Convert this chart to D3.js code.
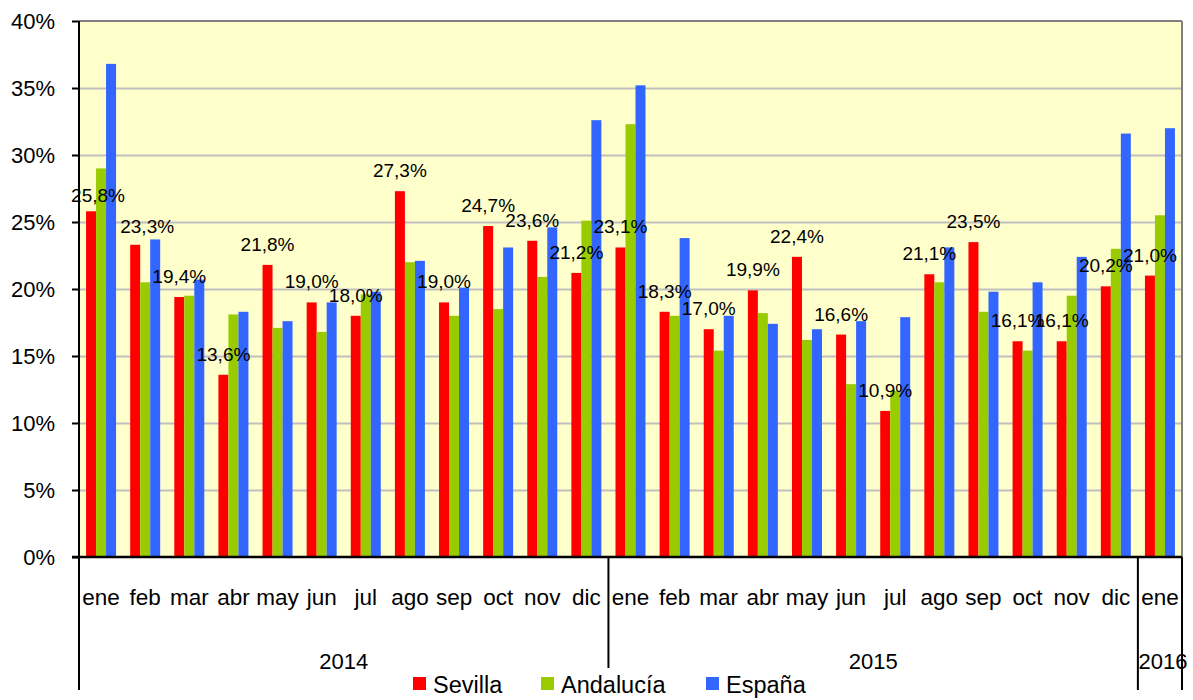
<!DOCTYPE html>
<html>
<head>
<meta charset="utf-8">
<script src="https://cdn.jsdelivr.net/npm/d3@7"></script>
<style>
  html, body { margin: 0; padding: 0; background: #fff; }
  svg { display: block; font-family: "Liberation Sans", Arial, sans-serif; }
</style>
</head>
<body>
<svg id="chart" width="1193" height="700"></svg>
<script>
// ---- Data ----
const months = ["ene","feb","mar","abr","may","jun","jul","ago","sep","oct","nov","dic",
                "ene","feb","mar","abr","may","jun","jul","ago","sep","oct","nov","dic",
                "ene"];
const years = ["2014", "2015", "2016"];
const yearCounts = [12, 12, 1];
const seriesNames = ["Sevilla", "Andalucía", "España"];
const sevilla   = [25.8,23.3,19.4,13.6,21.8,19.0,18.0,27.3,19.0,24.7,23.6,21.2,
                   23.1,18.3,17.0,19.9,22.4,16.6,10.9,21.1,23.5,16.1,16.1,20.2,
                   21.0];
const andalucia = [29.0,20.5,19.5,18.1,17.1,16.8,19.6,22.0,18.0,18.5,20.9,25.1,
                   32.3,18.0,15.4,18.2,16.2,12.9,12.4,20.5,18.3,15.4,19.5,23.0,
                   25.5];
const espana    = [36.8,23.7,20.7,18.3,17.6,19.0,19.8,22.1,20.1,23.1,24.6,32.6,
                   35.2,23.8,18.0,17.4,17.0,17.6,17.9,23.1,19.8,20.5,22.4,31.6,
                   32.0];
const yTicks = [0,5,10,15,20,25,30,35,40];

// ---- Layout / style ----
const colors = ["#FF0000", "#99CC00", "#3366FF"];
const pLeft = 79, pRight = 1182, pTop = 21, pBottom = 557;
const labelNudge = {0: [7, 5], 1: [12, 2]}; // manual label offsets of the original

const svg = d3.select("#chart");
const idx = d3.range(months.length);
const x = d3.scaleBand().domain(idx).range([pLeft, pRight]).padding(0);
const bw = x.bandwidth();
const xs = d3.scaleBand().domain(d3.range(3)).range([bw * 0.16, bw * 0.84]).padding(0);
const y = d3.scaleLinear().domain([0, 40]).range([pBottom, pTop]);

// plot background
svg.append("rect").attr("x", pLeft).attr("y", pTop)
  .attr("width", pRight - pLeft).attr("height", pBottom - pTop).attr("fill", "#FFFFCC");

// gridlines
const grid = svg.append("g").attr("transform", `translate(${pLeft},0)`)
  .call(d3.axisLeft(y).tickValues(yTicks.filter(t => t > 0 && t < 40)).tickSize(-(pRight - pLeft)).tickFormat(""));
grid.select(".domain").remove();
grid.selectAll("line").attr("stroke", "#C0C0C0").attr("stroke-width", 2);

// border top/right
svg.append("line").attr("x1", pLeft).attr("x2", pRight).attr("y1", pTop).attr("y2", pTop)
  .attr("stroke", "#808080").attr("stroke-width", 2);
svg.append("line").attr("x1", pRight).attr("x2", pRight).attr("y1", pTop).attr("y2", pBottom)
  .attr("stroke", "#808080").attr("stroke-width", 2);

// bars
const seriesData = [sevilla, andalucia, espana];
seriesData.forEach((vals, s) => {
  svg.append("g").selectAll("rect").data(vals).join("rect")
    .attr("x", (d, i) => x(i) + xs(s))
    .attr("y", d => y(d))
    .attr("width", xs.bandwidth())
    .attr("height", d => y(0) - y(d))
    .attr("fill", colors[s]);
});

// y axis
const yAxis = svg.append("g").attr("transform", `translate(${pLeft},0)`)
  .call(d3.axisLeft(y).tickValues(yTicks).tickSize(7).tickPadding(17).tickFormat(d => d + "%"));
yAxis.select(".domain").remove();
yAxis.selectAll("line").attr("stroke", "#000").attr("stroke-width", 2);
yAxis.selectAll("text").attr("font-size", 22).attr("fill", "#000")
  .attr("font-family", "'Liberation Sans', Arial, sans-serif");

svg.append("line").attr("x1", pLeft).attr("x2", pLeft).attr("y1", pTop).attr("y2", 690)
  .attr("stroke", "#000").attr("stroke-width", 2);
svg.append("line").attr("x1", pLeft - 7).attr("x2", pRight).attr("y1", pBottom).attr("y2", pBottom)
  .attr("stroke", "#000").attr("stroke-width", 2.5);

// month labels
svg.append("g").selectAll("text").data(idx).join("text")
  .attr("x", i => x(i) + bw / 2)
  .attr("y", 597)
  .attr("text-anchor", "middle")
  .attr("dominant-baseline", "central")
  .attr("font-size", 22.5)
  .text(i => months[i]);

// year groups
let start = 0;
years.forEach((yr, k) => {
  const x0 = x(start), x1 = x(start + yearCounts[k] - 1) + bw;
  svg.append("text").attr("x", (x0 + x1) / 2 + (k === 2 ? 3 : 0)).attr("y", 661)
    .attr("text-anchor", "middle").attr("dominant-baseline", "central")
    .attr("font-size", 22).text(yr);
  svg.append("line").attr("x1", x1).attr("x2", x1).attr("y1", pBottom)
    .attr("y2", k === 0 ? 668 : 690).attr("stroke", "#000").attr("stroke-width", 2);
  start += yearCounts[k];
});

// data labels (Sevilla)
const fmt = v => d3.format(".1f")(v).replace(".", ",") + "%";
svg.append("g").selectAll("text").data(sevilla).join("text")
  .attr("x", (d, i) => x(i) + xs(0) + xs.bandwidth() / 2 + (labelNudge[i] ? labelNudge[i][0] : 0))
  .attr("y", (d, i) => y(d) - 14 + (labelNudge[i] ? labelNudge[i][1] : 0))
  .attr("text-anchor", "middle")
  .attr("font-size", 19)
  .attr("fill", "#000")
  .text(d => fmt(d));

// legend
const legendX = [413, 541, 706];
const lg = svg.append("g");
seriesNames.forEach((n, s) => {
  lg.append("rect").attr("x", legendX[s]).attr("y", 677).attr("width", 13).attr("height", 13)
    .attr("fill", colors[s]);
  lg.append("text").attr("x", legendX[s] + 20).attr("y", 685).attr("dominant-baseline", "central")
    .attr("font-size", 23.5).text(n);
});
</script>
</body>
</html>
